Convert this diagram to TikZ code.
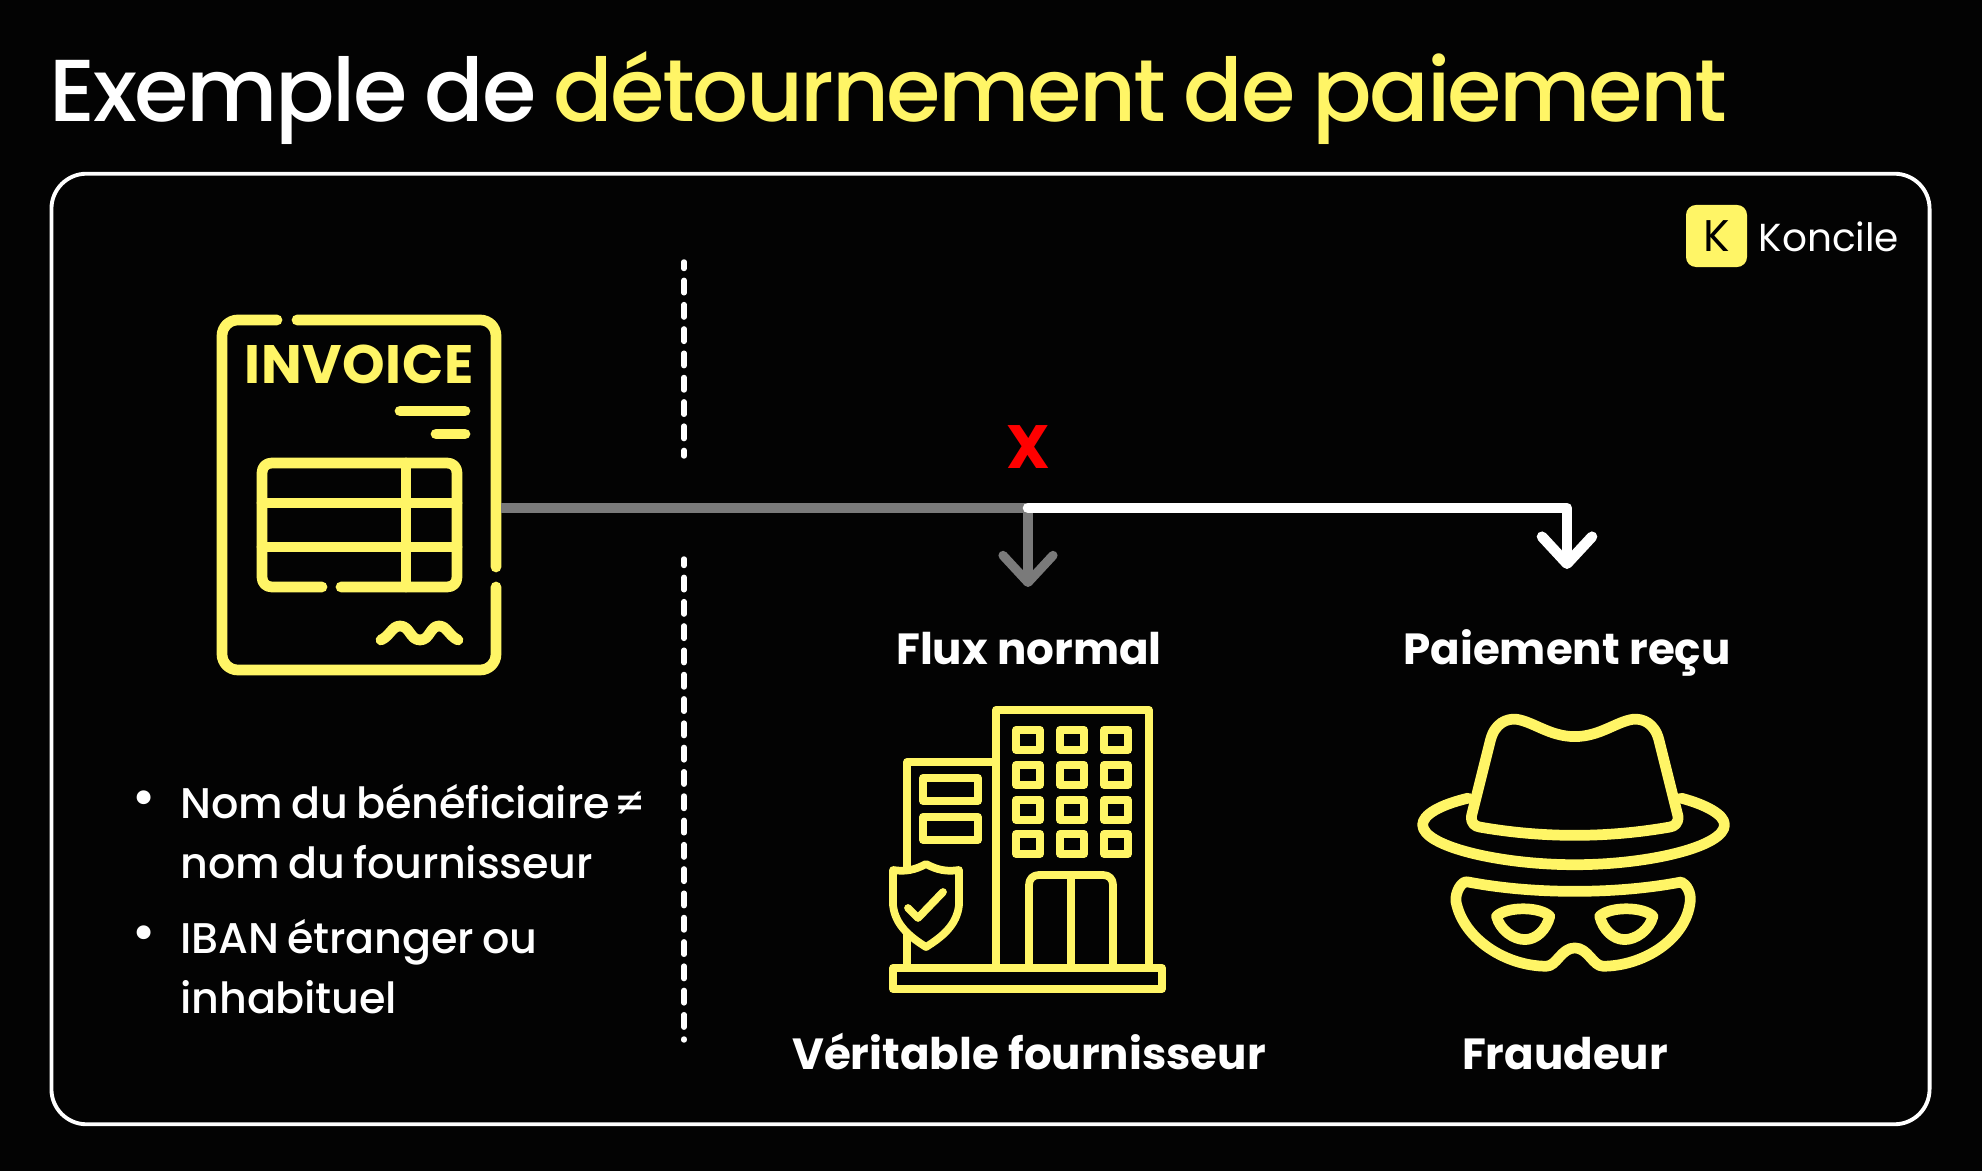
\documentclass[tikz,border=0pt]{standalone}
\usepackage{xcolor}
\usepackage{fontspec}
\usepackage{tikz}
\usetikzlibrary{arrows.meta, positioning}
\setmainfont{Poppins}
\newfontfamily\titlefont{Poppins Medium}[LetterSpace=-2.8, WordSpace=0.85]
\newfontfamily\bodyfont{Poppins Medium}[LetterSpace=-0.5, WordSpace=0.75]
\newfontfamily\labelfont{Poppins Bold}
\newfontfamily\stampfont{Poppins Bold}[LetterSpace=1]
\definecolor{koncileyellow}{HTML}{FFF566}
\definecolor{flowgray}{HTML}{7A7A7A}
\definecolor{pagebg}{HTML}{030303}
\begin{document}
\begin{tikzpicture}[x=0.01cm, y=-0.01cm]
\tikzstyle{panel} = [rectangle, rounded corners=0.35cm, minimum width=18.77cm, minimum height=9.5cm, draw=white, line width=1.1pt]
\tikzstyle{heading} = [anchor=base west, inner sep=0pt, font=\titlefont\fontsize{25}{30}\selectfont]
\tikzstyle{caption} = [text=white, anchor=base, inner sep=0pt, font=\labelfont\fontsize{12.4}{15}\selectfont]
\tikzstyle{bullettext} = [text=white, anchor=north west, inner sep=0pt, align=left, font=\bodyfont\fontsize{12.2}{17}\selectfont]
\tikzstyle{bulletmark} = [text=white, inner sep=0pt, font=\fontsize{16}{16}\selectfont]
\tikzstyle{divider} = [white, line width=1.55pt, line cap=round, dash pattern=on 3.55pt off 3.36pt, dash phase=1.7pt]
\tikzstyle{thickicon} = [koncileyellow, line width=3.05pt, line cap=round, line join=round]
\tikzstyle{thinicon} = [koncileyellow, line width=2.2pt, line cap=round, line join=round]
\tikzstyle{arrowgray} = [flowgray, line width=2.6pt, -{Straight Barb[round, length=0.27cm, width=0.5cm]}]
\tikzstyle{arrowwhite} = [white, line width=3pt, line cap=round, line join=round, -{Straight Barb[round, length=0.27cm, width=0.5cm]}]

\fill [pagebg] (0,0) rectangle (1982,1171);
\useasboundingbox (0,0) rectangle (1982,1171);

\node (title) [heading, text=white] at (49,122) {Exemple de \textcolor{koncileyellow}{détournement de paiement}};
\node (frame) [panel] at (990.5,649) {};

\node (logobox) [fill=koncileyellow, rounded corners=0.1cm, minimum width=0.61cm, minimum height=0.62cm, inner sep=0pt] at (1716.5,236) {};
\node (logok) at (logobox) {\fontsize{12.6}{14}\selectfont\textcolor{black}{K}};
\node (logotext) [text=white, anchor=west, inner sep=0pt] at (1758,237) {\fontsize{11.1}{13}\selectfont Koncile};

\coordinate (dashatop) at (684,262);
\coordinate (dashabottom) at (684,456);
\coordinate (dashbtop) at (684,559);
\coordinate (dashbbottom) at (684,1040);
\draw [divider] (dashatop) -- (dashabottom);
\draw [divider] (dashbtop) -- (dashbbottom);

\draw [thickicon] (277,320) -- (238,320) .. controls (229,320) and (222,327) .. (222,336) -- (222,654) .. controls (222,663) and (229,670) .. (238,670) -- (480,670) .. controls (489,670) and (496,663) .. (496,654) -- (496,587);
\draw [thickicon] (297,320) -- (480,320) .. controls (489,320) and (496,327) .. (496,336) -- (496,567);
\node (invoicetitle) [text=koncileyellow, inner sep=0pt] at (359,364) {\stampfont\fontsize{15.4}{18}\selectfont INVOICE};
\draw [thickicon] (400,411) -- (465,411);
\draw [thickicon] (436,434) -- (465,434);
\draw [thickicon] (322,587) -- (272,587) .. controls (266,587) and (262,583) .. (262,577) -- (262,473) .. controls (262,467) and (266,463) .. (272,463) -- (447,463) .. controls (453,463) and (457,467) .. (457,473) -- (457,577) .. controls (457,583) and (453,587) .. (447,587) -- (341,587);
\draw [thickicon] (262,503) -- (457,503);
\draw [thickicon] (262,547) -- (457,547);
\draw [thickicon] (406,463) -- (406,587);
\draw [thickicon] (381,640) .. controls (390,636) and (392,626) .. (400,626) .. controls (410,626) and (410,640) .. (420,640) .. controls (430,640) and (430,626) .. (439,626) .. controls (447,626) and (449,636) .. (458,640);

\coordinate (invoiceedge) at (501,508);
\coordinate (split) at (1028,508);
\coordinate (turn) at (1567,508);
\coordinate (normalend) at (1028,587);
\coordinate (fraudend) at (1567,569);
\draw [flowgray, line width=2.8pt] (invoiceedge) -- (split);
\draw [arrowgray] (split) -- (normalend);
\draw [arrowwhite] (split) -- (turn) -- (fraudend);
\node (cross) [text=red, inner sep=0pt] at (1028,447) {\stampfont\fontsize{17.4}{20}\selectfont X};

\node (normallabel) [caption] at (1029,665) {Flux normal};
\node (receivedlabel) [caption] at (1567,665) {Paiement reçu};
\node (supplierlabel) [caption] at (1029,1070) {Véritable fournisseur};
\node (fraudlabel) [caption] at (1565,1070) {Fraudeur};

\node (bulleta) [bulletmark] at (144,804) {•};
\node (bulletatext) [bullettext] at (180,784) {Nom du bénéficiaire\kern-0.1em{} ≠\\nom du fournisseur};
\node (bulletb) [bulletmark] at (144,939) {•};
\node (bulletbtext) [bullettext] at (180,919) {IBAN étranger ou\\inhabituel};

\draw [thinicon] (907,968) -- (907,762) -- (996,762);
\draw [thinicon] (996,968) -- (996,710) -- (1149,710) -- (1149,968);
\draw [thinicon] (893,968) rectangle (1162,989);
\draw [thinicon] (923,778) rectangle (978,801);
\draw [thinicon] (923,817) rectangle (978,840);
\draw [thinicon] (1016,730) rectangle (1040,750);
\draw [thinicon] (1060,730) rectangle (1084,750);
\draw [thinicon] (1104,730) rectangle (1128,750);
\draw [thinicon] (1016,765) rectangle (1040,785);
\draw [thinicon] (1060,765) rectangle (1084,785);
\draw [thinicon] (1104,765) rectangle (1128,785);
\draw [thinicon] (1016,800) rectangle (1040,820);
\draw [thinicon] (1060,800) rectangle (1084,820);
\draw [thinicon] (1104,800) rectangle (1128,820);
\draw [thinicon] (1016,834) rectangle (1040,854);
\draw [thinicon] (1060,834) rectangle (1084,854);
\draw [thinicon] (1104,834) rectangle (1128,854);
\draw [thinicon] (1029,968) -- (1029,885) .. controls (1029,879) and (1033,875) .. (1039,875) -- (1103,875) .. controls (1109,875) and (1113,879) .. (1113,885) -- (1113,968);
\draw [thinicon] (1071,875) -- (1071,968);
\draw [thinicon, fill=pagebg] (926,864) .. controls (915,870) and (905,872) .. (893,870) -- (893,905) .. controls (895,925) and (910,937) .. (926,947) .. controls (942,937) and (957,925) .. (959,905) -- (959,870) .. controls (947,872) and (937,870) .. (926,864) -- cycle;
\draw [thinicon] (908,908) -- (918,918) -- (943,892);

\begin{scope}[shift={(1400,690)}, x=0.00333cm, y=-0.00333cm]
\draw [thickicon] (215,378) -- (272,150) .. controls (285,100) and (320,85) .. (350,88) .. controls (400,95) and (450,140) .. (525,140) .. controls (600,140) and (650,95) .. (700,88) .. controls (730,85) and (765,100) .. (778,150) -- (835,378) .. controls (838,400) and (825,410) .. (810,412) .. controls (620,445) and (430,445) .. (240,412) .. controls (225,410) and (212,400) .. (215,378) -- cycle;
\draw [thickicon] (205,325) .. controls (120,345) and (68,375) .. (68,405) .. controls (68,470) and (300,525) .. (525,525) .. controls (750,525) and (975,470) .. (975,405) .. controls (975,375) and (920,345) .. (845,325);
\draw [thickicon] (205,577) .. controls (310,597) and (420,605) .. (525,605) .. controls (630,605) and (740,597) .. (845,577) .. controls (862,585) and (875,610) .. (872,635) .. controls (860,750) and (730,830) .. (610,830) .. controls (580,830) and (565,775) .. (525,775) .. controls (485,775) and (470,830) .. (440,830) .. controls (320,830) and (190,750) .. (168,635) .. controls (165,610) and (185,570) .. (205,577) -- cycle;
\draw [thickicon] (290,680) .. controls (320,650) and (420,650) .. (450,680) .. controls (440,720) and (410,750) .. (375,750) .. controls (340,750) and (300,720) .. (290,680) -- cycle;
\draw [thickicon] (760,680) .. controls (730,650) and (630,650) .. (600,680) .. controls (610,720) and (640,750) .. (675,750) .. controls (710,750) and (750,720) .. (760,680) -- cycle;
\end{scope}
\end{tikzpicture}
\end{document}
